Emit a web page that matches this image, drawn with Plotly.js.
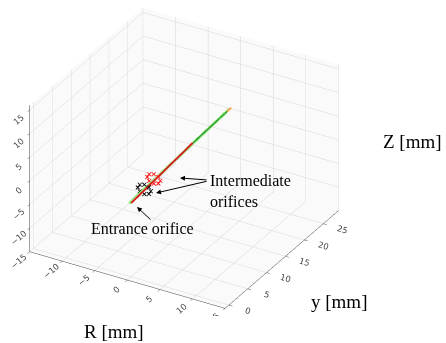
<!DOCTYPE html>
<html>
<head>
<meta charset="utf-8">
<script src="https://cdn.plot.ly/plotly-3.0.1.min.js"></script>
<style>html,body{margin:0;padding:0;background:#fff;}#plot{width:446px;height:343px;}</style>
</head>
<body>
<div id="plot"></div>
<script>
// ---- data (mm) ----
const beamGreenR = [-0.3, 0.0];
const beamGreenY = [0.0, 26.0];
const beamGreenZ = [0.4, 2.6];

const beamDarkR = [-0.1, 0.0];
const beamDarkY = [16.5, 25.5];
const beamDarkZ = [1.9, 2.5];

const beamRedR = [0.0, 0.0];
const beamRedY = [0.0, 16.3];
const beamRedZ = [0.6, 2.1];

const beamTipR = [0.0, 0.1];
const beamTipY = [25.4, 26.3];
const beamTipZ = [2.5, 2.7];

const orificeRedR = [1.0, 0.7, 0.0, -0.7, -1.0, -0.7, 0.0, 0.7];
const orificeRedY = [6.0, 6.0, 6.0, 6.0, 6.0, 6.0, 6.0, 6.0];
const orificeRedZ = [1.6, 2.3, 2.6, 2.3, 1.6, 0.9, 0.6, 0.9];

const orificeBlackR = [1.0, 0.7, 0.0, -0.7, -1.0, -0.7, 0.0, 0.7];
const orificeBlackY = [3.5, 3.5, 3.5, 3.5, 3.5, 3.5, 3.5, 3.5];
const orificeBlackZ = [1.1, 1.8, 2.1, 1.8, 1.1, 0.4, 0.1, 0.4];

const rTicks = [-15, -10, -5, 0, 5, 10, 15];
const yTicks = [0, 5, 10, 15, 20, 25];
const zTicks = [-10, -5, 0, 5, 10, 15];
const rRange = [-15, 15];
const yRange = [-1, 29];
const zRange = [-15, 16];

const labels = {
  r: 'R [mm]', y: 'y [mm]', z: 'Z [mm]',
  inter: 'Intermediate<br>orifices', entrance: 'Entrance orifice'
};

// ---- traces ----
const traces = [
  {type:'scatter3d', mode:'lines', x:beamGreenR, y:beamGreenY, z:beamGreenZ,
   line:{color:'rgba(110,200,90,0.85)', width:6}, showlegend:false, hoverinfo:'skip'},
  {type:'scatter3d', mode:'lines', x:beamDarkR, y:beamDarkY, z:beamDarkZ,
   line:{color:'#2e9a2e', width:3}, showlegend:false, hoverinfo:'skip'},
  {type:'scatter3d', mode:'lines', x:beamRedR, y:beamRedY, z:beamRedZ,
   line:{color:'#d62020', width:4}, showlegend:false, hoverinfo:'skip'},
  {type:'scatter3d', mode:'lines', x:beamTipR, y:beamTipY, z:beamTipZ,
   line:{color:'#f5a050', width:4}, showlegend:false, hoverinfo:'skip'},
  {type:'scatter3d', mode:'markers', x:orificeRedR, y:orificeRedY, z:orificeRedZ,
   marker:{symbol:'x', color:'#ff1010', size:1.0}, showlegend:false, hoverinfo:'skip'},
  {type:'scatter3d', mode:'markers', x:orificeBlackR, y:orificeBlackY, z:orificeBlackZ,
   marker:{symbol:'x', color:'#000', size:1.0}, showlegend:false, hoverinfo:'skip'}
];

const axisBase = {
  showbackground:true, backgroundcolor:'rgba(250,250,250,1)',
  gridcolor:'#d6d6d6', gridwidth:1, zeroline:false,
  showline:true, linecolor:'#444', linewidth:1,
  ticks:'outside', ticklen:4, tickcolor:'#444',
  tickfont:{family:'DejaVu Sans', size:10, color:'#444'},
  showspikes:false, title:{text:''}, tickmode:'array'
};

const serif = (s) => ({family:'Liberation Serif', size:s, color:'#000'});

const layout = {
  width:446, height:343,
  margin:{l:0, r:0, t:0, b:0},
  paper_bgcolor:'#fff',
  showlegend:false,
  scene:{
    domain:{x:[0.0, 0.826], y:[0.078, 1.0]},
    bgcolor:'#fff',
    aspectmode:'manual', aspectratio:{x:1.43, y:1.43, z:1.07},
    camera:{eye:{x:0.87, y:-1.5, z:1.0}, center:{x:0, y:0, z:0}, up:{x:0,y:0,z:1},
            projection:{type:'orthographic'}},
    xaxis:Object.assign({}, axisBase, {range:rRange, tickvals:rTicks}),
    yaxis:Object.assign({}, axisBase, {range:yRange, tickvals:yTicks}),
    zaxis:Object.assign({}, axisBase, {range:zRange, tickvals:zTicks})
  },
  annotations:[
    {xref:'paper', yref:'paper', x:114/446, y:1-331/343, xanchor:'center', yanchor:'middle',
     text:labels.r, showarrow:false, font:serif(19)},
    {xref:'paper', yref:'paper', x:339/446, y:1-301/343, xanchor:'center', yanchor:'middle',
     text:labels.y, showarrow:false, font:serif(19)},
    {xref:'paper', yref:'paper', x:412/446, y:1-141/343, xanchor:'center', yanchor:'middle',
     text:labels.z, showarrow:false, font:serif(19)},
    {xref:'paper', yref:'paper', x:208/446, y:1-191/343, xanchor:'left', yanchor:'middle',
     text:labels.inter, showarrow:false, align:'left', font:serif(16)},
    {xref:'paper', yref:'paper', x:142/446, y:1-228/343, xanchor:'center', yanchor:'middle',
     text:labels.entrance, showarrow:false, font:serif(16)},
    {xref:'paper', yref:'paper', x:180/446, y:1-178/343, text:'', showarrow:true,
     axref:'pixel', ayref:'pixel', ax:28, ay:2, arrowhead:2, arrowsize:1, arrowwidth:1, arrowcolor:'#000'},
    {xref:'paper', yref:'paper', x:156/446, y:1-193/343, text:'', showarrow:true,
     axref:'pixel', ayref:'pixel', ax:52, ay:-12, arrowhead:2, arrowsize:1, arrowwidth:1, arrowcolor:'#000'},
    {xref:'paper', yref:'paper', x:137/446, y:1-207/343, text:'', showarrow:true,
     axref:'pixel', ayref:'pixel', ax:15, ay:14, arrowhead:2, arrowsize:1, arrowwidth:1, arrowcolor:'#000'}
  ]
};

Plotly.newPlot('plot', traces, layout, {displayModeBar:false});
</script>
</body>
</html>
